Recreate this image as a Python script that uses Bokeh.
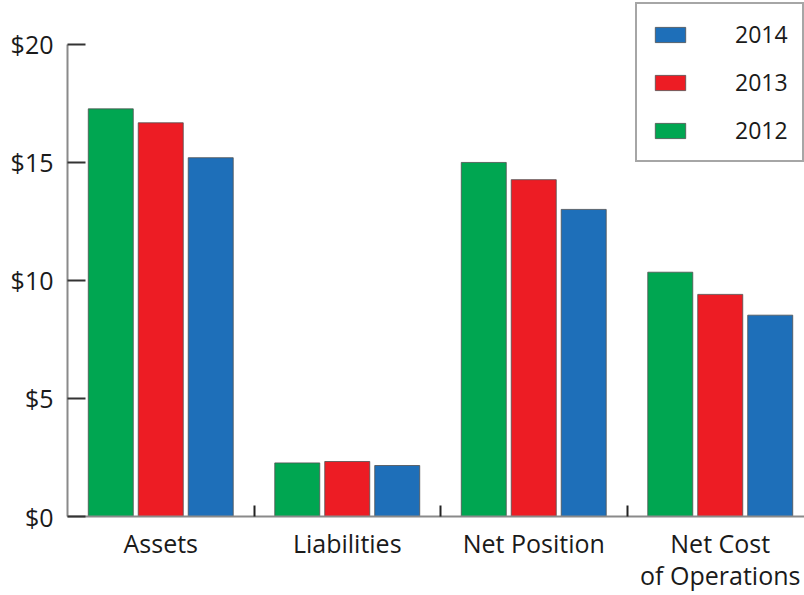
from bokeh.plotting import figure
from bokeh.models import (ColumnDataSource, Range1d, FixedTicker, Legend, LegendItem,
                          NumeralTickFormatter)
from bokeh.transform import dodge
from bokeh.embed import file_html
from bokeh.resources import INLINE

# ---- data ----
categories = ["Assets", "Liabilities", "Net Position", "Net Cost\nof Operations"]
years = ["2012", "2013", "2014"]
values_2012 = [17.27, 2.27, 15.0, 10.35]
values_2013 = [16.68, 2.33, 14.27, 9.41]
values_2014 = [15.2, 2.16, 13.01, 8.53]
y_ticks = [0, 5, 10, 15, 20]

colors = {"2012": "#00A651", "2013": "#ED1C24", "2014": "#1E6FB9"}

xpos = [i + 0.5 for i in range(len(categories))]
source = ColumnDataSource(dict(x=xpos, cat=categories,
                               y2012=values_2012, y2013=values_2013, y2014=values_2014))

FONT = "Open Sans"
FS = "25px"

# frame: top at 2px, bottom at 517px; $20 sits at 44px
px_per_unit = 473 / 20
y_top = 20 + 42 / px_per_unit

p = figure(width=804, height=595, output_backend="svg", toolbar_location=None,
           x_range=Range1d(0, 737 / 186.5), y_range=Range1d(0, y_top),
           min_border_left=67, min_border_right=0, min_border_top=2, min_border_bottom=78)
p.outline_line_color = None
p.xgrid.grid_line_color = None
p.ygrid.grid_line_color = None

bw = 0.2413
off = 0.268
renderers = {}
for yr, dx in zip(years, [-off, 0.0, off]):
    renderers[yr] = p.vbar(x=dodge("x", dx, range=p.x_range), top="y" + yr, width=bw,
                           source=source, fill_color=colors[yr],
                           line_color="#505050", line_width=1, line_alpha=0.8)

# y axis
ya = p.yaxis[0]
ya.ticker = FixedTicker(ticks=y_ticks)
ya.bounds = (0, 20)
ya.formatter = NumeralTickFormatter(format="$0")
ya.major_tick_in = 18
ya.major_tick_out = 0
ya.major_tick_line_color = "#333333"
ya.major_tick_line_width = 2
ya.minor_tick_line_color = None
ya.axis_line_color = "#8a8a8a"
ya.axis_line_width = 2
ya.major_label_standoff = 14
ya.major_label_text_font = FONT
ya.major_label_text_font_size = FS
ya.major_label_text_color = "#1a1a1a"

# x axis
xa = p.xaxis[0]
xa.ticker = FixedTicker(ticks=xpos, minor_ticks=[1, 2, 3])
xa.major_label_overrides = {x: c for x, c in zip(xpos, categories)}
xa.major_tick_in = 0
xa.major_tick_out = 0
xa.minor_tick_in = 11
xa.minor_tick_out = 0
xa.minor_tick_line_color = "#222222"
xa.minor_tick_line_width = 2
xa.axis_line_color = "#8a8a8a"
xa.axis_line_width = 2
xa.major_label_standoff = 9
xa.major_label_text_font = FONT
xa.major_label_text_font_size = FS
xa.major_label_text_color = "#1a1a1a"
xa.major_label_text_line_height = 0.97
xa.major_label_orientation = "horizontal"

legend = Legend(items=[LegendItem(label=yr, renderers=[renderers[yr]]) for yr in ["2014", "2013", "2012"]],
                location=(568, 354), orientation="vertical",
                glyph_width=38, glyph_height=19, label_standoff=46,
                padding=14, spacing=16, margin=0,
                label_text_font=FONT, label_text_font_size="23px", label_text_color="#1a1a1a",
                border_line_color="#4d4d4d", border_line_width=2,
                background_fill_color="white", background_fill_alpha=1)
p.add_layout(legend, "center")

open("out.html", "w").write(file_html(p, INLINE))
